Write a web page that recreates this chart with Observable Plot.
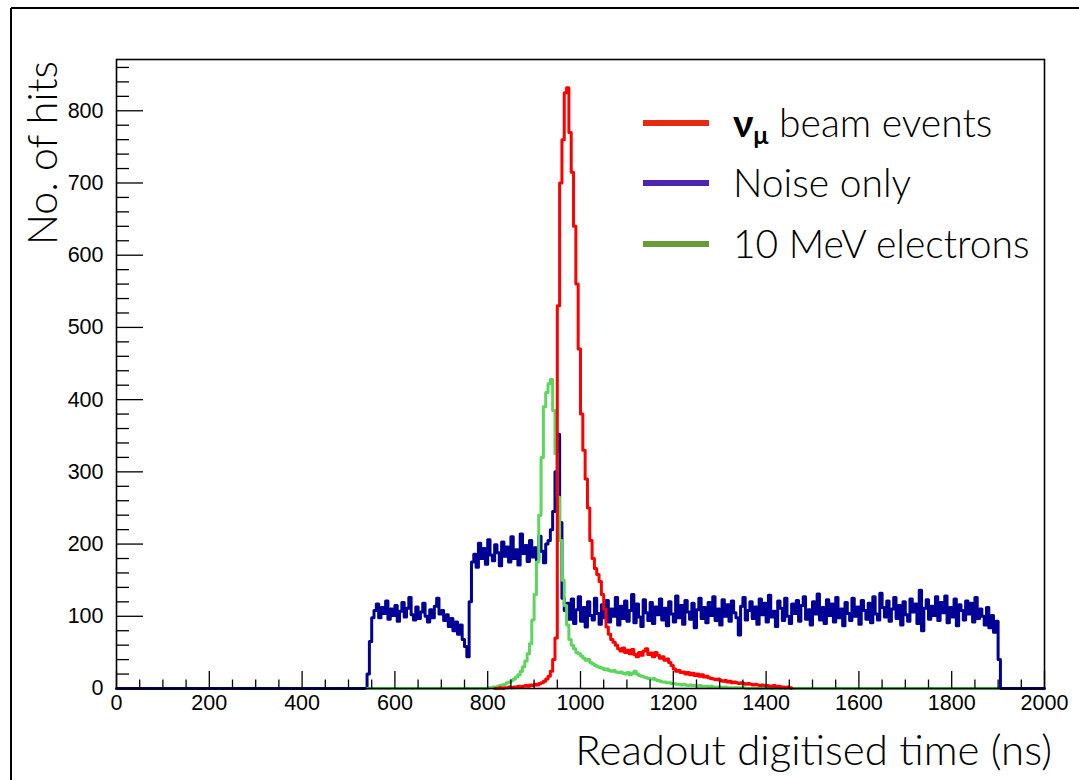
<!DOCTYPE html>
<html>
<head>
<meta charset="utf-8">
<script src="https://cdn.jsdelivr.net/npm/d3@7"></script>
<script src="https://cdn.jsdelivr.net/npm/@observablehq/plot@0.6"></script>
<style>
  html, body { margin: 0; padding: 0; background: #fff; }
  #chart { position: relative; width: 1079px; height: 780px; overflow: hidden; }
</style>
</head>
<body>
<div id="chart"></div>
<script>
// ---------------- data (5 ns bins) ----------------
const binWidth = 5;

// Noise only (blue): first bin edge and bin contents
const noiseStart = 540;
const noiseValues = [
  20, 65, 98,
  108, 117, 98, 112, 104, 121, 96, 110, 101, 115, 93, 107, 119, 99, 111, 126, 102, 95, 113, 97, 106, 118, 100, 92, 109, 98, 114, 125, 103,
  108, 94, 102, 86, 97, 80, 92, 75, 88, 68, 58, 44,
  120, 175,
  186, 168, 201, 180, 194, 172, 206, 185, 177, 199, 188, 170, 203, 183, 196, 175, 210, 180, 192, 171, 214, 187, 198, 176, 205, 182, 195, 178, 211, 190, 174, 200,
  205, 220, 245, 300, 352, 230, 125, 108,
  118, 96, 124, 90, 109, 127, 93, 112, 85, 120, 101, 95, 125, 104, 89, 116, 98, 122, 92, 110,
  100, 126, 88, 114, 97, 121, 93, 108, 130, 91, 117, 99, 86, 123, 105, 94, 119, 90, 113, 102,
  124, 95, 111, 87, 120, 103, 92, 128, 98, 115, 89, 122, 106, 96, 118, 84, 109, 125, 97, 112,
  91, 119, 101, 127, 94, 110, 88, 123, 100, 116, 93, 121, 105, 98, 74, 114, 126, 95, 108, 120,
  97, 113, 89, 124, 102, 118, 92, 129, 99, 107, 86, 121, 111, 94, 125, 100, 90, 117, 104, 122,
  93, 115, 127, 96, 109, 88, 120, 103, 131, 95, 112, 90, 123, 101, 117, 92, 126, 98, 110, 87,
  119, 104, 94, 125, 100, 113, 89, 122, 108, 96, 118, 91, 127, 103, 95, 132, 112, 99, 121, 93,
  110, 126, 97, 115, 88, 120, 102, 93, 124, 106, 117, 90, 136, 80, 111, 123, 96, 114, 101, 127,
  94, 119, 105, 128, 91, 112, 99, 124, 87, 116, 108, 95, 121, 103, 118, 92, 126, 97, 110, 100,
  88, 112, 84, 101, 78, 93,
  40, 0
];

// nu_mu beam events (red)
const beamStart = 815;
const beamValues = [
  0, 0, 1, 0, 1, 1, 2, 1, 2, 2, 3, 2, 3, 4, 3, 5, 4, 6, 5, 7, 8, 10, 13, 17, 24, 40, 70,
  530, 700, 760, 825, 832, 770, 715, 640, 560, 470, 380, 330, 290, 250, 205, 180, 166, 158, 148, 130, 110, 85,
  75, 68, 64, 60, 55, 52, 56, 50, 53, 48, 54, 47, 44, 50, 46, 52, 55, 47, 49, 44, 50, 46, 42, 44, 39, 41, 36, 32,
  27, 24, 25, 22, 23, 20, 22, 19, 21, 18, 20, 17, 19, 16, 17, 15, 14, 13, 12, 13,
  11, 10, 11, 9, 10, 8, 9, 8, 7, 8, 7, 6, 7, 6, 5, 6, 5, 4, 5, 4,
  4, 3, 3, 4, 2, 3, 2, 2, 1, 2, 1, 0
];

// 10 MeV electrons (green)
const elecStart = 800;
const elecValues = [
  1, 1, 2, 2, 3, 4, 5, 6, 8, 9, 11, 13, 16, 19, 24, 30, 38, 48, 62, 95,
  130, 175, 240, 320, 390, 410, 422, 428, 385, 325, 265, 205, 150, 115, 88, 68, 60, 55, 50, 48,
  45, 42, 39, 40, 36, 34, 32, 30, 29, 28, 26, 27, 25, 24, 25, 23, 22, 23, 21, 20,
  22, 19, 21, 24, 20, 18, 17, 16, 15, 14, 13, 14, 12, 11, 10, 9, 9, 8, 8, 7,
  7, 6, 6, 5, 6, 5, 4, 5, 4, 4, 3, 4, 3, 3, 3, 2, 3, 2, 2, 2,
  2, 1, 2, 1, 1, 1, 1, 1, 1, 1, 1, 0
];

const xMajor = d3.range(0, 2001, 200);
const xMinor = d3.range(0, 2001, 50).filter(v => v % 200 !== 0);
const yMajor = d3.range(0, 801, 100);
const yMinor = d3.range(0, 871, 20).filter(v => v % 100 !== 0);

const legendLabels = ["beam events", "Noise only", "10 MeV electrons"];

// ---------------- build step outlines ----------------
function steps(start, values, lo, hi) {
  const pts = [];
  if (lo !== undefined && lo < start) pts.push({x: lo, y: 0});
  values.forEach((v, i) => pts.push({x: start + i * binWidth, y: v}));
  if (hi !== undefined) pts.push({x: hi, y: 0});
  return pts;
}
const noisePts = steps(noiseStart, noiseValues, 0, 2000);
const elecPts  = steps(elecStart, elecValues, 540, 1900);
const beamPts  = steps(beamStart, beamValues, undefined, undefined);

const W = 1079, H = 780;
const mL = 116, mR = 35, mT = 59, mB = 92;
const frameH = H - mT - mB, frameW = W - mL - mR;

const plot = Plot.plot({
  width: W,
  height: H,
  marginLeft: mL,
  marginRight: mR,
  marginTop: mT,
  marginBottom: mB,
  style: {background: "#fff", fontFamily: "'Liberation Sans', Arial, Helvetica, sans-serif"},
  x: {domain: [0, 2000]},
  y: {domain: [0, 871]},
  marks: [
    Plot.line(noisePts, {x: "x", y: "y", curve: "step-after", stroke: "#000096", strokeWidth: 3}),
    Plot.line(elecPts,  {x: "x", y: "y", curve: "step-after", stroke: "#5cd65c", strokeWidth: 3}),
    Plot.line(beamPts,  {x: "x", y: "y", curve: "step-after", stroke: "#ff0000", strokeWidth: 3}),
    Plot.ruleX(xMajor, {x: d => d, insetTop: frameH - 17, stroke: "#000", strokeWidth: 1.3}),
    Plot.ruleX(xMinor, {x: d => d, insetTop: frameH - 8.5, stroke: "#000", strokeWidth: 1.3}),
    Plot.ruleY(yMajor, {y: d => d, insetRight: frameW - 27, stroke: "#000", strokeWidth: 1.3}),
    Plot.ruleY(yMinor, {y: d => d, insetRight: frameW - 13, stroke: "#000", strokeWidth: 1.3}),
    Plot.frame({stroke: "#000", strokeWidth: 1.6}),
    Plot.axisX({ticks: xMajor, tickSize: 0, tickPadding: 6, fontSize: 21.5, label: null, tickFormat: d => String(d), fill: "#000"}),
    Plot.axisY({ticks: yMajor, tickSize: 0, tickPadding: 13, fontSize: 21.5, label: null, tickFormat: d => String(d), fill: "#000"})
  ]
});

document.getElementById("chart").appendChild(plot);

// ---------------- decorations (titles, legend, outer frame) ----------------
const svg = d3.select(plot);
const titleFont = "Lato, 'Open Sans', 'Noto Sans', sans-serif";

// outer figure border (cropped)
svg.append("line").attr("x1", 11).attr("x2", W + 5).attr("y1", 8).attr("y2", 8)
  .attr("stroke", "#000").attr("stroke-width", 2);
svg.append("line").attr("x1", 11).attr("x2", 11).attr("y1", 8).attr("y2", H + 5)
  .attr("stroke", "#000").attr("stroke-width", 2);

// axis titles
svg.append("text")
  .attr("transform", "translate(57,61) rotate(-90)")
  .attr("text-anchor", "end")
  .attr("font-family", titleFont)
  .attr("font-weight", 300)
  .attr("font-size", 41)
  .attr("fill", "#000")
  .text("No. of hits");

svg.append("text")
  .attr("x", 1052).attr("y", 765)
  .attr("text-anchor", "end")
  .attr("font-family", titleFont)
  .attr("font-weight", 300)
  .attr("font-size", 42)
  .attr("fill", "#000")
  .text("Readout digitised time (ns)");

// legend
const legendColors = ["#e52a12", "#5024b3", "#669d36"];
const legendY = [123, 183, 244];
legendY.forEach((ly, i) => {
  svg.append("line").attr("x1", 643).attr("x2", 709).attr("y1", ly).attr("y2", ly)
    .attr("stroke", legendColors[i]).attr("stroke-width", 6);
  const t = svg.append("text")
    .attr("x", 733).attr("y", ly + 14)
    .attr("text-anchor", "start")
    .attr("font-family", titleFont)
    .attr("font-weight", 300)
    .attr("font-size", 39)
    .attr("fill", "#000");
  if (i === 0) {
    t.append("tspan").attr("font-weight", 700).text("ν");
    t.append("tspan").attr("font-weight", 700).attr("font-size", 25).attr("dy", 7).text("μ");
    t.append("tspan").attr("dy", -7).text(" " + legendLabels[0]);
  } else {
    t.text(legendLabels[i]);
  }
});
</script>
</body>
</html>
